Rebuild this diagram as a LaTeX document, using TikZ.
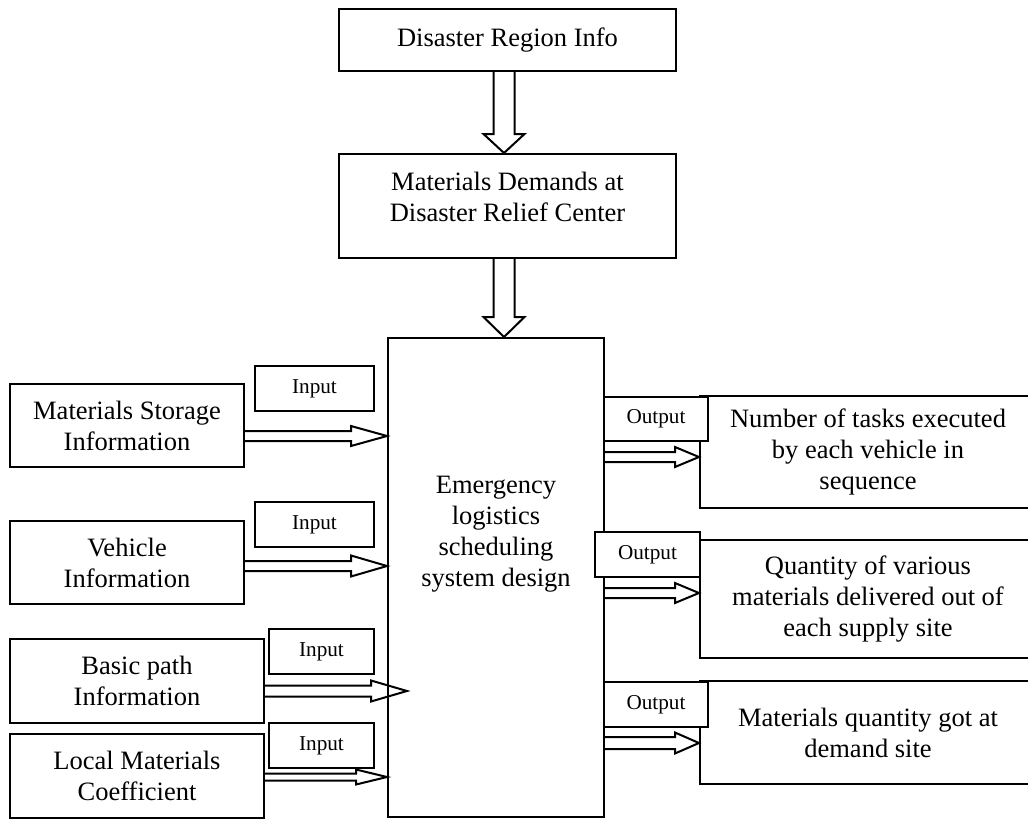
\documentclass[tikz,border=0pt]{standalone}
\usepackage{fontspec}
\setmainfont{Liberation Serif}
\usetikzlibrary{calc}

% block arrows: #1 start, #2 end, #3 half shaft, #4 half head, #5 head length
\newcommand{\hollowright}[5]{%
  \draw[hollow] let \p1=#1, \p2=#2 in
    (\x1,\y1+#3pt) -- (\x2-#5pt,\y1+#3pt) -- (\x2-#5pt,\y1+#4pt) -- (\x2,\y1)
    -- (\x2-#5pt,\y1-#4pt) -- (\x2-#5pt,\y1-#3pt) -- (\x1,\y1-#3pt);}
\newcommand{\hollowdown}[5]{%
  \draw[hollow] let \p1=#1, \p2=#2 in
    (\x1-#3pt,\y1) -- (\x1-#3pt,\y2+#5pt) -- (\x1-#4pt,\y2+#5pt) -- (\x1,\y2)
    -- (\x1+#4pt,\y2+#5pt) -- (\x1+#3pt,\y2+#5pt) -- (\x1+#3pt,\y1);}

\begin{document}
\begin{tikzpicture}[x=1pt,y=-1pt]
    \tikzstyle{box}=[rectangle,draw,line width=2pt,inner sep=0pt,align=center,font=\fontsize{26.5}{31}\selectfont]
    \tikzstyle{tag}=[rectangle,draw,line width=2pt,inner sep=0pt,fill=white,minimum height=45pt,font=\fontsize{21.2}{25}\selectfont]
    \tikzstyle{words}=[align=center,inner sep=0pt,font=\fontsize{26.5}{31}\selectfont]
    \tikzstyle{hollow}=[draw,line width=2pt,line join=miter]
    \useasboundingbox (0,0) rectangle (1028,819);
    % top chain
    \node (region) at (507.5,40) [box,minimum width=337pt,minimum height=62pt] {Disaster Region Info};
    \node (demand) at (507.5,206) [box,minimum width=337pt,minimum height=104pt] {};
    \node (demandtxt) at (507.5,197) [words] {Materials Demands at\\Disaster Relief Center};
    \node (core) at (496,577.5) [box,minimum width=216pt,minimum height=479pt] {};
    \node (coretxt) at (496,534) [words] {Emergency\\logistics\\scheduling\\system design};
    % inputs
    \node (storage) at (127,425.5) [box,minimum width=234pt,minimum height=83pt] {Materials Storage\\Information};
    \node (vehicle) at (127,562.5) [box,minimum width=234pt,minimum height=83pt] {Vehicle\\Information};
    \node (path)    at (137,681)   [box,minimum width=254pt,minimum height=84pt] {Basic path\\Information};
    \node (local)   at (137,776)   [box,minimum width=254pt,minimum height=84pt] {Local Materials\\Coefficient};
    \node (in1) at (314.5,388.5) [tag,minimum width=119pt] {Input};
    \node (in2) at (314.5,524.5) [tag,minimum width=119pt] {Input};
    \node (in3) at (321.5,651.5) [tag,minimum width=105pt] {Input};
    \node (in4) at (321.5,745.5) [tag,minimum width=105pt] {Input};
    % outputs
    \node (tasks)    at (868,452)   [box,minimum width=336pt,minimum height=112pt] {Number of tasks executed\\by each vehicle in\\sequence};
    \node (quantity) at (868,599)   [box,minimum width=336pt,minimum height=118pt] {Quantity of various\\materials delivered out of\\each supply site};
    \node (got)      at (868,732.5) [box,minimum width=336pt,minimum height=103pt] {Materials quantity got at\\demand site};
    \node (out1) at (656,419)   [tag,minimum width=104pt,minimum height=44pt] {Output};
    \node (out2) at (647.5,554.5) [tag,minimum width=105pt] {Output};
    \node (out3) at (656,704.5) [tag,minimum width=104pt] {Output};
    % arrows
    \hollowdown{($(region.south)+(-3.5,0)$)}{(demand.north)}{10.5}{20.5}{19}
    \hollowdown{($(demand.south)+(-3.5,0)$)}{(core.north)}{10.5}{20.5}{20}
    \hollowright{($(storage.east)+(0,10.5)$)}{(core.west)}{5}{10}{36}
    \hollowright{($(vehicle.east)+(0,3.5)$)}{(core.west)}{5}{10.5}{36}
    \hollowright{($(path.east)+(0,10)$)}{($(core.west)+(20,0)$)}{5.5}{10.5}{36}
    \hollowright{($(local.east)+(0,1)$)}{(core.west)}{3.5}{7.5}{31}
    \hollowright{($(core.east |- tasks.west)+(0,5)$)}{(tasks.west)}{5}{10}{24}
    \hollowright{($(core.east |- quantity.west)+(0,-6)$)}{(quantity.west)}{5}{10}{24}
    \hollowright{($(core.east |- got.west)+(0,10.5)$)}{(got.west)}{6}{10.5}{24}
\end{tikzpicture}
\end{document}
